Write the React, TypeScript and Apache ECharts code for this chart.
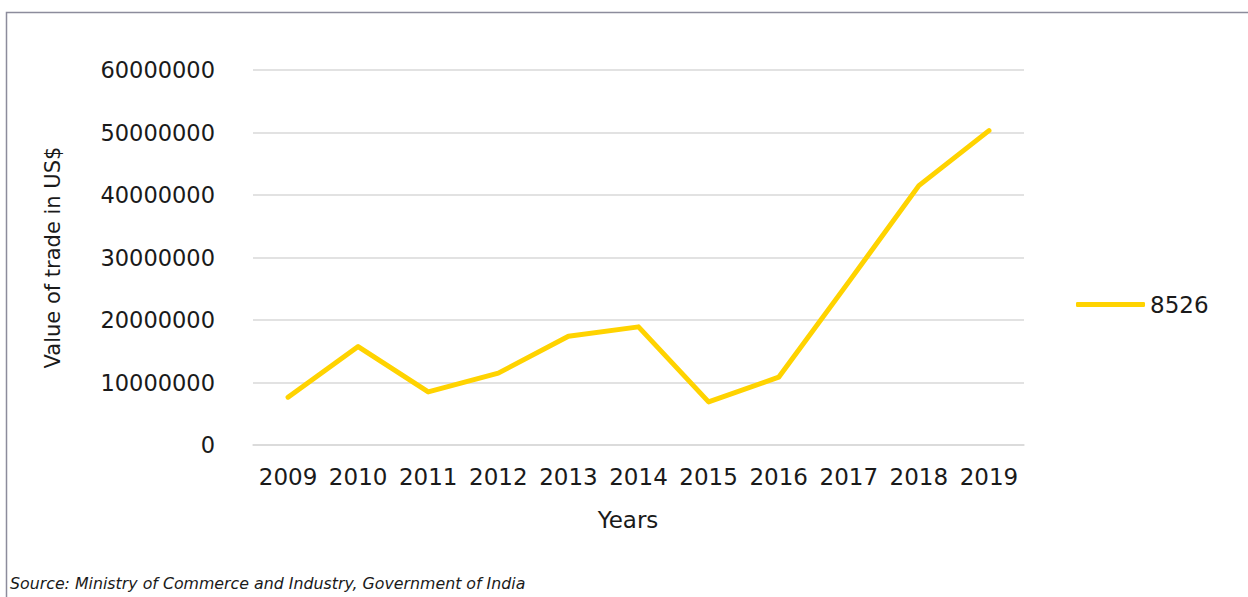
import React, { useEffect, useRef } from "react";
import * as echarts from "echarts";

const years = ["2009", "2010", "2011", "2012", "2013", "2014", "2015", "2016", "2017", "2018", "2019"];
const values8526 = [7650000, 15750000, 8500000, 11500000, 17400000, 18900000, 6900000, 10850000, 26100000, 41500000, 50300000];
const seriesName = "8526";
const yTitle = "Value of trade in US$";
const xTitle = "Years";
const sourceText = "Source: Ministry of Commerce and Industry, Government of India";

const FONT = "DejaVu Sans";

export default function App() {
  const ref = useRef<HTMLDivElement>(null);
  useEffect(() => {
    if (!ref.current) return;
    const chart = echarts.init(ref.current, null, { renderer: "svg" });
    chart.setOption({
      animation: false,
      backgroundColor: "#ffffff",
      textStyle: { fontFamily: FONT },
      grid: { left: 253, right: 224, top: 70, bottom: 152 },
      xAxis: {
        type: "category",
        data: years,
        boundaryGap: true,
        axisTick: { show: false },
        axisLine: { lineStyle: { color: "#d9d9d9", width: 1.5 } },
        axisLabel: { color: "#1a1a1a", fontSize: 23, margin: 20, interval: 0, fontFamily: FONT },
      },
      yAxis: {
        type: "value",
        min: 0,
        max: 60000000,
        interval: 10000000,
        axisLine: { show: false },
        axisTick: { show: false },
        splitLine: { lineStyle: { color: "#d9d9d9", width: 1.5 } },
        axisLabel: {
          color: "#1a1a1a",
          fontSize: 22.5,
          margin: 38,
          fontFamily: FONT,
          formatter: (v: number) => String(v),
        },
        name: yTitle,
        nameLocation: "middle",
        nameGap: 190,
        nameTextStyle: { color: "#1a1a1a", fontSize: 21, fontFamily: FONT },
      },
      legend: {
        show: true,
        left: 1071,
        top: 288,
        itemWidth: 69,
        itemHeight: 5,
        icon: "roundRect",
        itemGap: 10,
        textStyle: { color: "#1a1a1a", fontSize: 23, fontFamily: FONT },
        data: [seriesName],
      },
      series: [
        {
          name: seriesName,
          type: "line",
          data: values8526,
          symbol: "none",
          lineStyle: { color: "#FFD300", width: 5, cap: "round", join: "round" },
          itemStyle: { color: "#FFD300" },
        },
      ],
      graphic: [
        {
          type: "rect",
          shape: { x: 6.5, y: 12.5, width: 1260, height: 620 },
          style: { fill: "none", stroke: "#8c8c9c", lineWidth: 1.5 },
          silent: true,
        },
        {
          type: "text",
          x: 628,
          y: 520,
          style: {
            text: xTitle,
            fill: "#1a1a1a",
            font: `23px '${FONT}'`,
            textAlign: "center",
            textVerticalAlign: "middle",
          },
        },
        {
          type: "text",
          x: 10,
          y: 583,
          style: {
            text: sourceText,
            fill: "#1a1a1a",
            font: `italic 15.8px '${FONT}'`,
            textAlign: "left",
            textVerticalAlign: "middle",
          },
        },
      ],
    });
    return () => chart.dispose();
  }, []);
  return (
    <div
      ref={ref}
      style={{ position: "absolute", left: 0, top: 0, width: 1248, height: 597 }}
    />
  );
}
